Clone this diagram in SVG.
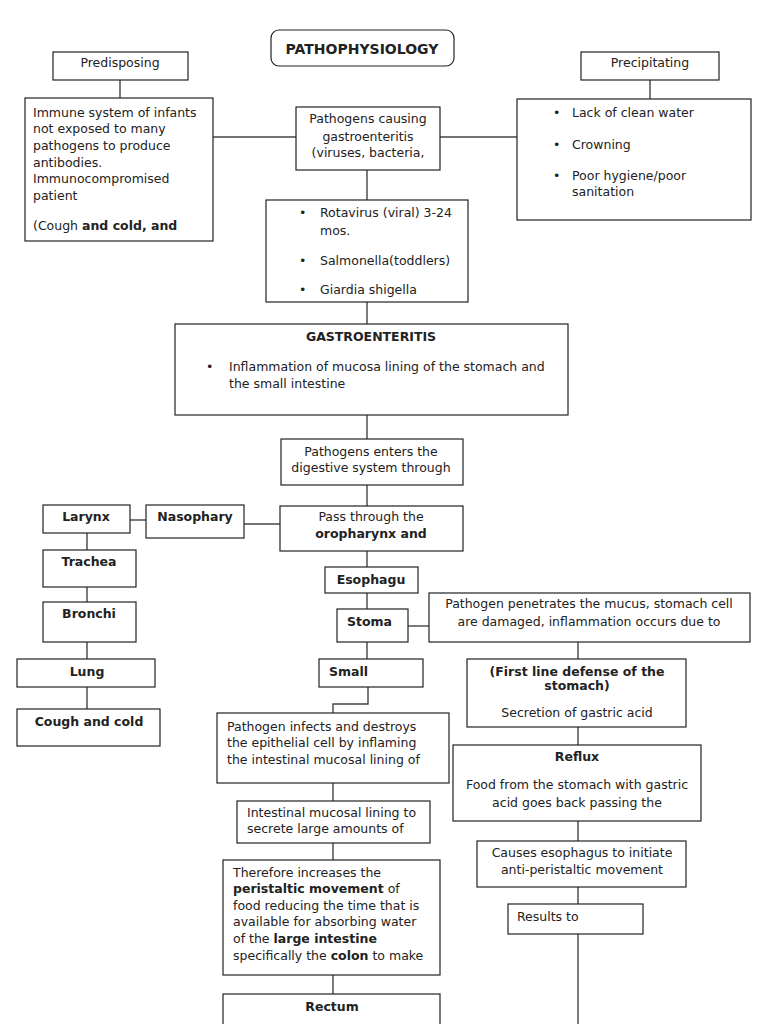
<svg xmlns="http://www.w3.org/2000/svg" width="768" height="1024" viewBox="0 0 768 1024">
<style>
.box{fill:#fff;stroke:#222;stroke-width:1.2}
.ln{stroke:#444;stroke-width:1.4;fill:none}
text{font-family:"DejaVu Sans","Liberation Sans",sans-serif;font-size:12.5px;fill:#222}
.c{text-anchor:middle}
.b{font-weight:bold}
</style>
<rect width="768" height="1024" fill="#fff"/>
<g id="connectors">
<line class="ln" x1="120" y1="80" x2="120" y2="98"/>
<line class="ln" x1="213" y1="137" x2="296" y2="137"/>
<line class="ln" x1="440" y1="137" x2="517" y2="137"/>
<line class="ln" x1="650" y1="80" x2="650" y2="99"/>
<line class="ln" x1="367" y1="170" x2="367" y2="200"/>
<line class="ln" x1="367" y1="302" x2="367" y2="324"/>
<line class="ln" x1="367" y1="415" x2="367" y2="439"/>
<line class="ln" x1="367" y1="485" x2="367" y2="506"/>
<line class="ln" x1="244" y1="524" x2="280" y2="524"/>
<line class="ln" x1="130" y1="520" x2="146" y2="520"/>
<line class="ln" x1="87" y1="533" x2="87" y2="550"/>
<line class="ln" x1="87" y1="587" x2="87" y2="602"/>
<line class="ln" x1="87" y1="642" x2="87" y2="659"/>
<line class="ln" x1="87" y1="687" x2="87" y2="709"/>
<line class="ln" x1="367" y1="551" x2="367" y2="567"/>
<line class="ln" x1="367" y1="593" x2="367" y2="609"/>
<line class="ln" x1="408" y1="626" x2="429" y2="626"/>
<line class="ln" x1="367" y1="642" x2="367" y2="659"/>
<polyline class="ln" points="368,687 368,704 333,704 333,713"/>
<line class="ln" x1="333" y1="783" x2="333" y2="801"/>
<line class="ln" x1="333" y1="843" x2="333" y2="860"/>
<line class="ln" x1="333" y1="975" x2="333" y2="994"/>
<line class="ln" x1="578" y1="642" x2="578" y2="659"/>
<line class="ln" x1="578" y1="727" x2="578" y2="745"/>
<line class="ln" x1="578" y1="821" x2="578" y2="841"/>
<line class="ln" x1="578" y1="887" x2="578" y2="904"/>
<line class="ln" x1="578" y1="934" x2="578" y2="1024"/>
</g>
<g id="title">
<rect class="box" x="271" y="30" width="183" height="36" rx="8"/>
<text class="c b" x="362" y="54" style="font-size:14px">PATHOPHYSIOLOGY</text>
</g>
<g id="predisposing">
<rect class="box" x="53" y="52" width="135" height="28"/>
<text class="c" x="120" y="67">Predisposing</text>
</g>
<g id="immune">
<rect class="box" x="25" y="98" width="188" height="143"/>
<text x="33" y="117">Immune system of infants</text>
<text x="33" y="133">not exposed to many</text>
<text x="33" y="150">pathogens to produce</text>
<text x="33" y="167">antibodies.</text>
<text x="33" y="183">Immunocompromised</text>
<text x="33" y="200">patient</text>
<text x="33" y="230">(Cough <tspan class="b">and cold, and</tspan></text>
</g>
<g id="pathogens-causing">
<rect class="box" x="296" y="107" width="144" height="63"/>
<text class="c" x="368" y="123">Pathogens causing</text>
<text class="c" x="368" y="141">gastroenteritis</text>
<text class="c" x="368" y="157">(viruses, bacteria,</text>
</g>
<g id="precipitating">
<rect class="box" x="581" y="52" width="138" height="28"/>
<text class="c" x="650" y="67">Precipitating</text>
</g>
<g id="precipitating-list">
<rect class="box" x="517" y="99" width="234" height="121"/>
<text x="553" y="117">•</text><text x="572" y="117">Lack of clean water</text>
<text x="553" y="149">•</text><text x="572" y="149">Crowning</text>
<text x="553" y="180">•</text><text x="572" y="180">Poor hygiene/poor</text>
<text x="572" y="196">sanitation</text>
</g>
<g id="pathogen-types">
<rect class="box" x="266" y="200" width="202" height="102"/>
<text x="299" y="217">•</text><text x="320" y="217">Rotavirus (viral) 3-24</text>
<text x="320" y="235">mos.</text>
<text x="299" y="265">•</text><text x="320" y="265">Salmonella(toddlers)</text>
<text x="299" y="294">•</text><text x="320" y="294">Giardia shigella</text>
</g>
<g id="gastroenteritis">
<rect class="box" x="175" y="324" width="393" height="91"/>
<text class="c b" x="371" y="341">GASTROENTERITIS</text>
<text x="206" y="371">•</text><text x="229" y="371">Inflammation of mucosa lining of the stomach and</text>
<text x="229" y="388">the small intestine</text>
</g>
<g id="pathogens-enter">
<rect class="box" x="281" y="439" width="182" height="46"/>
<text class="c" x="371" y="456">Pathogens enters the</text>
<text class="c" x="371" y="472">digestive system through</text>
</g>
<g id="pass-through">
<rect class="box" x="280" y="506" width="183" height="45"/>
<text class="c" x="371" y="521">Pass through the</text>
<text class="c b" x="371" y="538">oropharynx and</text>
</g>
<g id="nasophary">
<rect class="box" x="146" y="505" width="98" height="33"/>
<text class="c b" x="195" y="521">Nasophary</text>
</g>
<g id="larynx">
<rect class="box" x="43" y="505" width="87" height="28"/>
<text class="c b" x="86" y="521">Larynx</text>
</g>
<g id="trachea">
<rect class="box" x="43" y="550" width="93" height="37"/>
<text class="c b" x="89" y="566">Trachea</text>
</g>
<g id="bronchi">
<rect class="box" x="43" y="602" width="93" height="40"/>
<text class="c b" x="89" y="618">Bronchi</text>
</g>
<g id="lung">
<rect class="box" x="17" y="659" width="138" height="28"/>
<text class="c b" x="87" y="676">Lung</text>
</g>
<g id="cough-cold">
<rect class="box" x="17" y="709" width="143" height="37"/>
<text class="c b" x="89" y="726">Cough and cold</text>
</g>
<g id="esophagus">
<rect class="box" x="325" y="567" width="93" height="26"/>
<text class="c b" x="371" y="584">Esophagu</text>
</g>
<g id="stomach">
<rect class="box" x="337" y="609" width="71" height="33"/>
<text class="b" x="347" y="626">Stoma</text>
</g>
<g id="penetrates">
<rect class="box" x="429" y="593" width="321" height="49"/>
<text class="c" x="589" y="608">Pathogen penetrates the mucus, stomach cell</text>
<text class="c" x="589" y="626">are damaged, inflammation occurs due to</text>
</g>
<g id="small">
<rect class="box" x="319" y="659" width="104" height="28"/>
<text class="b" x="329" y="676">Small</text>
</g>
<g id="first-line">
<rect class="box" x="467" y="659" width="219" height="68"/>
<text class="c b" x="577" y="676">(First line defense of the</text>
<text class="c b" x="577" y="690">stomach)</text>
<text class="c" x="577" y="717">Secretion of gastric acid</text>
</g>
<g id="infects">
<rect class="box" x="217" y="713" width="232" height="70"/>
<text x="227" y="731">Pathogen infects and destroys</text>
<text x="227" y="747">the epithelial cell by inflaming</text>
<text x="227" y="764">the intestinal mucosal lining of</text>
</g>
<g id="reflux">
<rect class="box" x="453" y="745" width="248" height="76"/>
<text class="c b" x="577" y="761">Reflux</text>
<text class="c" x="577" y="789">Food from the stomach with gastric</text>
<text class="c" x="577" y="807">acid goes back passing the</text>
</g>
<g id="intestinal">
<rect class="box" x="237" y="801" width="193" height="42"/>
<text x="247" y="817">Intestinal mucosal lining to</text>
<text x="247" y="833">secrete large amounts of</text>
</g>
<g id="causes">
<rect class="box" x="477" y="841" width="209" height="46"/>
<text class="c" x="582" y="857">Causes esophagus to initiate</text>
<text class="c" x="582" y="874">anti-peristaltic movement</text>
</g>
<g id="therefore">
<rect class="box" x="223" y="860" width="217" height="115"/>
<text x="233" y="877">Therefore increases the</text>
<text x="233" y="893"><tspan class="b">peristaltic movement</tspan> of</text>
<text x="233" y="910">food reducing the time that is</text>
<text x="233" y="926">available for absorbing water</text>
<text x="233" y="943">of the <tspan class="b">large intestine</tspan></text>
<text x="233" y="960">specifically the <tspan class="b">colon</tspan> to make</text>
</g>
<g id="results">
<rect class="box" x="508" y="904" width="135" height="30"/>
<text x="517" y="921">Results to</text>
</g>
<g id="rectum">
<rect class="box" x="223" y="994" width="217" height="40"/>
<text class="c b" x="332" y="1011">Rectum</text>
</g>
</svg>
